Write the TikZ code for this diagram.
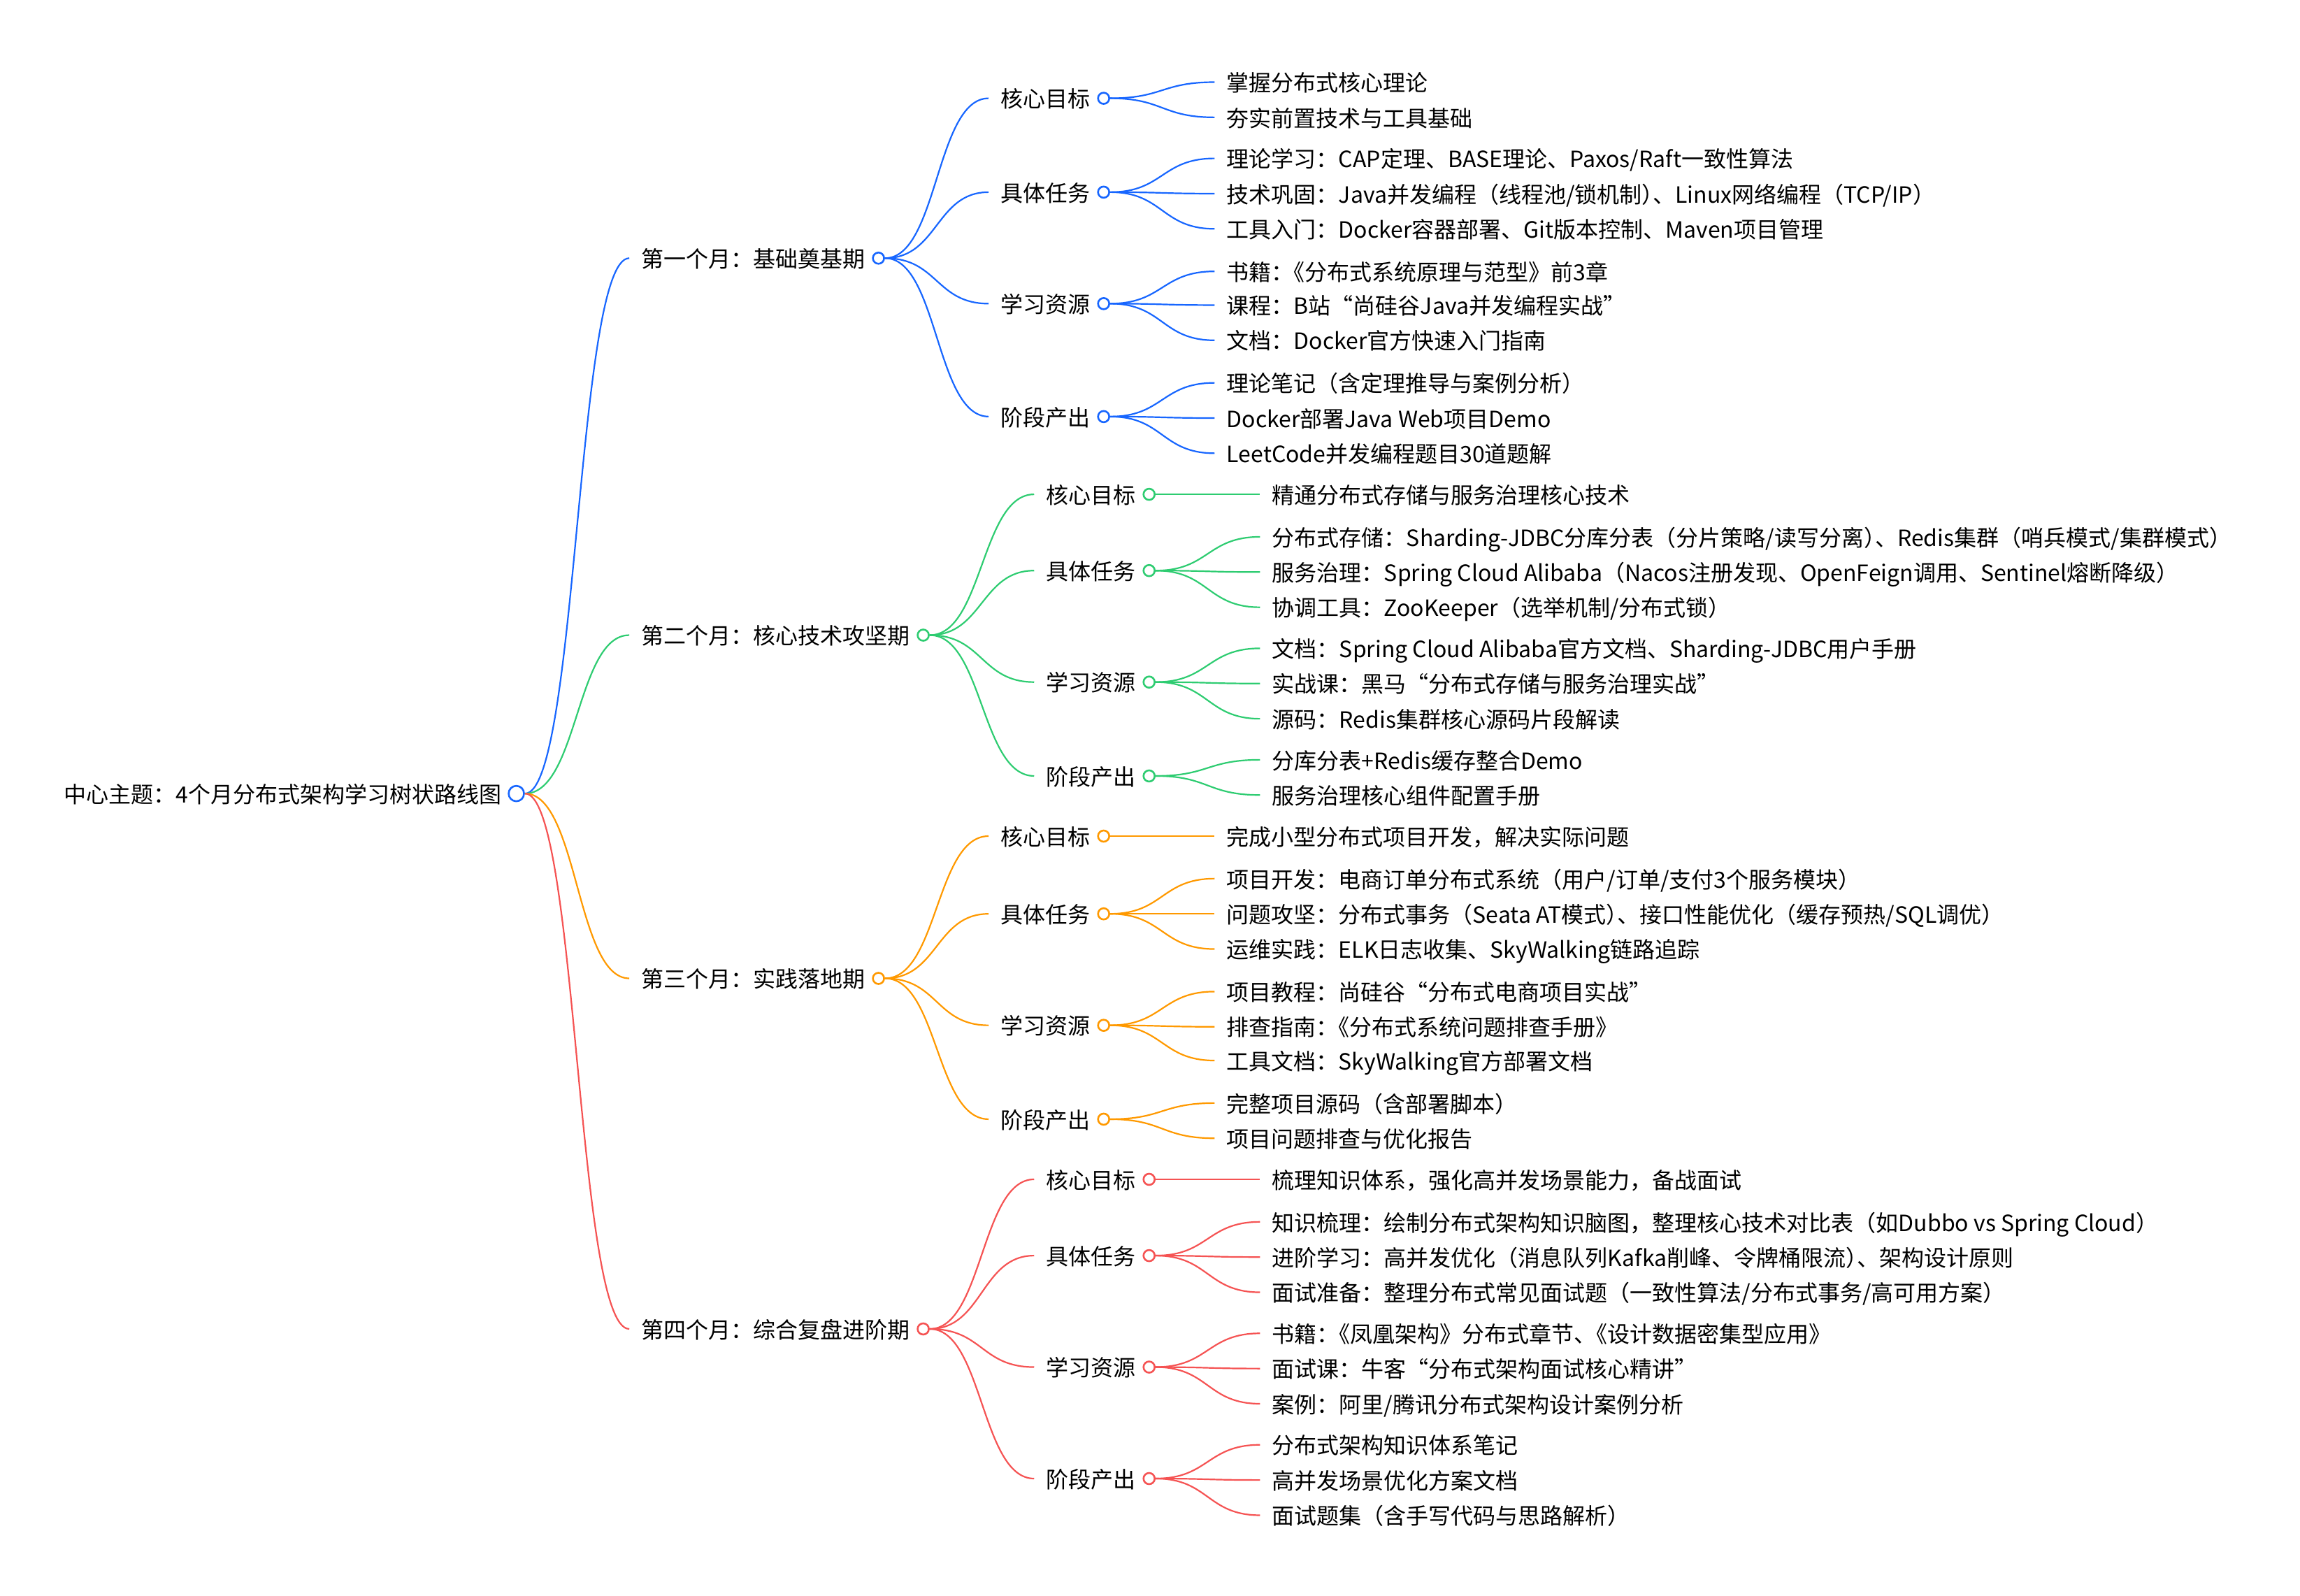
\documentclass[tikz,border=0pt]{standalone}
\usepackage{fontspec}
\setmainfont{Noto Sans CJK SC}
\usetikzlibrary{positioning}

\definecolor{mmblue}{RGB}{23,102,255}
\definecolor{mmgreen}{RGB}{46,204,113}
\definecolor{mmorange}{RGB}{255,153,0}
\definecolor{mmred}{RGB}{245,83,83}

\newcommand{\sq}{\kern-.5em}

\tikzset{
  mmtext/.style={anchor=west, inner xsep=4.2pt, inner ysep=0pt, text height=7pt, text depth=0.4pt, font=\fontsize{8pt}{10pt}\selectfont},
  mmdot/.style={circle, draw, fill=white, line width=.65pt, minimum size=4pt, inner sep=0pt},
  mmlink/.style={line width=.55pt, to path={.. controls +(19pt,0) and +(-19pt,0) .. (\tikztotarget)}}
}

\begin{document}
\begin{tikzpicture}[x=0.5246pt, y=-0.5246pt]
\useasboundingbox (0,0) rectangle (1568,1088);

\node[mmdot, draw=mmblue, minimum size=5.5pt] (rootd) at (352,541) {};
\node[mmtext, left=-2.2pt of rootd] (root) {中心主题：4个月分布式架构学习树状路线图};

\node[mmtext] (m1) at (429,176) {第一个月：基础奠基期};
\node[mmtext] (m2) at (429,433) {第二个月：核心技术攻坚期};
\node[mmtext] (m3) at (429,667) {第三个月：实践落地期};
\node[mmtext] (m4) at (429,906) {第四个月：综合复盘进阶期};
\node[mmdot, draw=mmblue, right=-2pt of m1] (m1d) {};
\node[mmdot, draw=mmgreen, right=-2pt of m2] (m2d) {};
\node[mmdot, draw=mmorange, right=-2pt of m3] (m3d) {};
\node[mmdot, draw=mmred, right=-2pt of m4] (m4d) {};

\node[mmtext] (m1k1) at (674,67) {核心目标};
\node[mmtext] (m1k2) at (674,131) {具体任务};
\node[mmtext] (m1k3) at (674,207) {学习资源};
\node[mmtext] (m1k4) at (674,284) {阶段产出};
\node[mmdot, draw=mmblue, right=-2pt of m1k1] (m1k1d) {};
\node[mmdot, draw=mmblue, right=-2pt of m1k2] (m1k2d) {};
\node[mmdot, draw=mmblue, right=-2pt of m1k3] (m1k3d) {};
\node[mmdot, draw=mmblue, right=-2pt of m1k4] (m1k4d) {};

\node[mmtext] (m2k1) at (705,337) {核心目标};
\node[mmtext] (m2k2) at (705,389) {具体任务};
\node[mmtext] (m2k3) at (705,465) {学习资源};
\node[mmtext] (m2k4) at (705,529) {阶段产出};
\node[mmdot, draw=mmgreen, right=-2pt of m2k1] (m2k1d) {};
\node[mmdot, draw=mmgreen, right=-2pt of m2k2] (m2k2d) {};
\node[mmdot, draw=mmgreen, right=-2pt of m2k3] (m2k3d) {};
\node[mmdot, draw=mmgreen, right=-2pt of m2k4] (m2k4d) {};

\node[mmtext] (m3k1) at (674,570) {核心目标};
\node[mmtext] (m3k2) at (674,623) {具体任务};
\node[mmtext] (m3k3) at (674,699) {学习资源};
\node[mmtext] (m3k4) at (674,763) {阶段产出};
\node[mmdot, draw=mmorange, right=-2pt of m3k1] (m3k1d) {};
\node[mmdot, draw=mmorange, right=-2pt of m3k2] (m3k2d) {};
\node[mmdot, draw=mmorange, right=-2pt of m3k3] (m3k3d) {};
\node[mmdot, draw=mmorange, right=-2pt of m3k4] (m3k4d) {};

\node[mmtext] (m4k1) at (705,804) {核心目标};
\node[mmtext] (m4k2) at (705,856) {具体任务};
\node[mmtext] (m4k3) at (705,932) {学习资源};
\node[mmtext] (m4k4) at (705,1008) {阶段产出};
\node[mmdot, draw=mmred, right=-2pt of m4k1] (m4k1d) {};
\node[mmdot, draw=mmred, right=-2pt of m4k2] (m4k2d) {};
\node[mmdot, draw=mmred, right=-2pt of m4k3] (m4k3d) {};
\node[mmdot, draw=mmred, right=-2pt of m4k4] (m4k4d) {};

\node[mmtext] (m1k1a) at (828,56) {掌握分布式核心理论};
\node[mmtext] (m1k1b) at (828,80) {夯实前置技术与工具基础};
\node[mmtext] (m1k2a) at (828,108) {理论学习：CAP定理、BASE理论、Paxos/Raft一致性算法};
\node[mmtext] (m1k2b) at (828,132) {技术巩固：Java并发编程（线程池/锁机制）\sq、Linux网络编程（TCP/IP）};
\node[mmtext] (m1k2c) at (828,156) {工具入门：Docker容器部署、Git版本控制、Maven项目管理};
\node[mmtext] (m1k3a) at (828,185) {书籍：\sq《分布式系统原理与范型》前3章};
\node[mmtext] (m1k3b) at (828,208) {课程：B站“尚硅谷Java并发编程实战”};
\node[mmtext] (m1k3c) at (828,232) {文档：Docker官方快速入门指南};
\node[mmtext] (m1k4a) at (828,261) {理论笔记（含定理推导与案例分析）};
\node[mmtext] (m1k4b) at (828,285) {Docker部署Java Web项目Demo};
\node[mmtext] (m1k4c) at (828,309) {LeetCode并发编程题目30道题解};

\node[mmtext] (m2k1a) at (859,337) {精通分布式存储与服务治理核心技术};
\node[mmtext] (m2k2a) at (859,366) {分布式存储：Sharding-JDBC分库分表（分片策略/读写分离）\sq、Redis集群（哨兵模式/集群模式）};
\node[mmtext] (m2k2b) at (859,390) {服务治理：Spring Cloud Alibaba（Nacos注册发现、OpenFeign调用、Sentinel熔断降级）};
\node[mmtext] (m2k2c) at (859,414) {协调工具：ZooKeeper（选举机制/分布式锁）};
\node[mmtext] (m2k3a) at (859,442) {文档：Spring Cloud Alibaba官方文档、Sharding-JDBC用户手册};
\node[mmtext] (m2k3b) at (859,466) {实战课：黑马“分布式存储与服务治理实战”};
\node[mmtext] (m2k3c) at (859,490) {源码：Redis集群核心源码片段解读};
\node[mmtext] (m2k4a) at (859,518) {分库分表+Redis缓存整合Demo};
\node[mmtext] (m2k4b) at (859,542) {服务治理核心组件配置手册};

\node[mmtext] (m3k1a) at (828,570) {完成小型分布式项目开发，解决实际问题};
\node[mmtext] (m3k2a) at (828,599) {项目开发：电商订单分布式系统（用户/订单/支付3个服务模块）};
\node[mmtext] (m3k2b) at (828,623) {问题攻坚：分布式事务（Seata AT模式）\sq、接口性能优化（缓存预热/SQL调优）};
\node[mmtext] (m3k2c) at (828,647) {运维实践：ELK日志收集、SkyWalking链路追踪};
\node[mmtext] (m3k3a) at (828,676) {项目教程：尚硅谷“分布式电商项目实战”};
\node[mmtext] (m3k3b) at (828,700) {排查指南：\sq《分布式系统问题排查手册》};
\node[mmtext] (m3k3c) at (828,723) {工具文档：SkyWalking官方部署文档};
\node[mmtext] (m3k4a) at (828,752) {完整项目源码（含部署脚本）};
\node[mmtext] (m3k4b) at (828,776) {项目问题排查与优化报告};

\node[mmtext] (m4k1a) at (859,804) {梳理知识体系，强化高并发场景能力，备战面试};
\node[mmtext] (m4k2a) at (859,833) {知识梳理：绘制分布式架构知识脑图，整理核心技术对比表（如Dubbo vs Spring Cloud）};
\node[mmtext] (m4k2b) at (859,857) {进阶学习：高并发优化（消息队列Kafka削峰、令牌桶限流）\sq、架构设计原则};
\node[mmtext] (m4k2c) at (859,881) {面试准备：整理分布式常见面试题（一致性算法/分布式事务/高可用方案）};
\node[mmtext] (m4k3a) at (859,909) {书籍：\sq《凤凰架构》分布式章节、\sq《设计数据密集型应用》};
\node[mmtext] (m4k3b) at (859,933) {面试课：牛客“分布式架构面试核心精讲”};
\node[mmtext] (m4k3c) at (859,957) {案例：阿里/腾讯分布式架构设计案例分析};
\node[mmtext] (m4k4a) at (859,985) {分布式架构知识体系笔记};
\node[mmtext] (m4k4b) at (859,1009) {高并发场景优化方案文档};
\node[mmtext] (m4k4c) at (859,1033) {面试题集（含手写代码与思路解析）};

\draw[mmlink, mmblue] (rootd.east) to (m1.west);
\draw[mmlink, mmgreen] (rootd.east) to (m2.west);
\draw[mmlink, mmorange] (rootd.east) to (m3.west);
\draw[mmlink, mmred] (rootd.east) to (m4.west);

\draw[mmlink, mmblue] (m1d.east) to (m1k1.west);
\draw[mmlink, mmblue] (m1d.east) to (m1k2.west);
\draw[mmlink, mmblue] (m1d.east) to (m1k3.west);
\draw[mmlink, mmblue] (m1d.east) to (m1k4.west);
\draw[mmlink, mmblue] (m1k1d.east) to (m1k1a.west);
\draw[mmlink, mmblue] (m1k1d.east) to (m1k1b.west);
\draw[mmlink, mmblue] (m1k2d.east) to (m1k2a.west);
\draw[mmlink, mmblue] (m1k2d.east) to (m1k2b.west);
\draw[mmlink, mmblue] (m1k2d.east) to (m1k2c.west);
\draw[mmlink, mmblue] (m1k3d.east) to (m1k3a.west);
\draw[mmlink, mmblue] (m1k3d.east) to (m1k3b.west);
\draw[mmlink, mmblue] (m1k3d.east) to (m1k3c.west);
\draw[mmlink, mmblue] (m1k4d.east) to (m1k4a.west);
\draw[mmlink, mmblue] (m1k4d.east) to (m1k4b.west);
\draw[mmlink, mmblue] (m1k4d.east) to (m1k4c.west);

\draw[mmlink, mmgreen] (m2d.east) to (m2k1.west);
\draw[mmlink, mmgreen] (m2d.east) to (m2k2.west);
\draw[mmlink, mmgreen] (m2d.east) to (m2k3.west);
\draw[mmlink, mmgreen] (m2d.east) to (m2k4.west);
\draw[mmlink, mmgreen] (m2k1d.east) to (m2k1a.west);
\draw[mmlink, mmgreen] (m2k2d.east) to (m2k2a.west);
\draw[mmlink, mmgreen] (m2k2d.east) to (m2k2b.west);
\draw[mmlink, mmgreen] (m2k2d.east) to (m2k2c.west);
\draw[mmlink, mmgreen] (m2k3d.east) to (m2k3a.west);
\draw[mmlink, mmgreen] (m2k3d.east) to (m2k3b.west);
\draw[mmlink, mmgreen] (m2k3d.east) to (m2k3c.west);
\draw[mmlink, mmgreen] (m2k4d.east) to (m2k4a.west);
\draw[mmlink, mmgreen] (m2k4d.east) to (m2k4b.west);

\draw[mmlink, mmorange] (m3d.east) to (m3k1.west);
\draw[mmlink, mmorange] (m3d.east) to (m3k2.west);
\draw[mmlink, mmorange] (m3d.east) to (m3k3.west);
\draw[mmlink, mmorange] (m3d.east) to (m3k4.west);
\draw[mmlink, mmorange] (m3k1d.east) to (m3k1a.west);
\draw[mmlink, mmorange] (m3k2d.east) to (m3k2a.west);
\draw[mmlink, mmorange] (m3k2d.east) to (m3k2b.west);
\draw[mmlink, mmorange] (m3k2d.east) to (m3k2c.west);
\draw[mmlink, mmorange] (m3k3d.east) to (m3k3a.west);
\draw[mmlink, mmorange] (m3k3d.east) to (m3k3b.west);
\draw[mmlink, mmorange] (m3k3d.east) to (m3k3c.west);
\draw[mmlink, mmorange] (m3k4d.east) to (m3k4a.west);
\draw[mmlink, mmorange] (m3k4d.east) to (m3k4b.west);

\draw[mmlink, mmred] (m4d.east) to (m4k1.west);
\draw[mmlink, mmred] (m4d.east) to (m4k2.west);
\draw[mmlink, mmred] (m4d.east) to (m4k3.west);
\draw[mmlink, mmred] (m4d.east) to (m4k4.west);
\draw[mmlink, mmred] (m4k1d.east) to (m4k1a.west);
\draw[mmlink, mmred] (m4k2d.east) to (m4k2a.west);
\draw[mmlink, mmred] (m4k2d.east) to (m4k2b.west);
\draw[mmlink, mmred] (m4k2d.east) to (m4k2c.west);
\draw[mmlink, mmred] (m4k3d.east) to (m4k3a.west);
\draw[mmlink, mmred] (m4k3d.east) to (m4k3b.west);
\draw[mmlink, mmred] (m4k3d.east) to (m4k3c.west);
\draw[mmlink, mmred] (m4k4d.east) to (m4k4a.west);
\draw[mmlink, mmred] (m4k4d.east) to (m4k4b.west);
\draw[mmlink, mmred] (m4k4d.east) to (m4k4c.west);
\end{tikzpicture}
\end{document}
